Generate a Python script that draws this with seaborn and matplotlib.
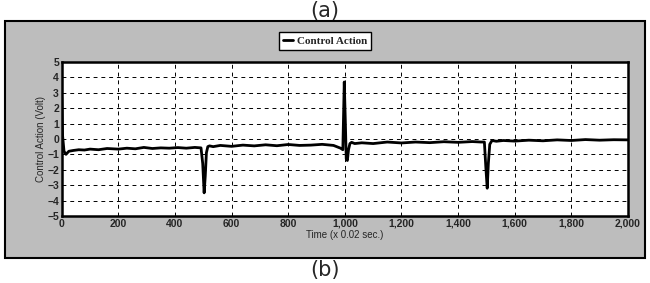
import pandas as pd
import matplotlib.pyplot as plt
import matplotlib.patches as mpatches
import seaborn as sns

# Control action (time in steps of 0.02 s, volts)
time = [0, 3, 8, 15, 25, 40, 60, 80, 100, 130, 160, 200, 230, 260, 290, 320, 350,
        380, 410, 440, 470, 492, 498, 503, 507, 511, 516, 522, 535, 560, 600, 640,
        680, 720, 760, 800, 840, 880, 920, 960, 985, 993, 998, 1002, 1005, 1009,
        1013, 1018, 1024, 1035, 1060, 1100, 1150, 1200, 1250, 1300, 1350, 1400,
        1450, 1480, 1493, 1498, 1503, 1507, 1512, 1520, 1535, 1560, 1600, 1650,
        1700, 1750, 1800, 1850, 1900, 1950, 2000]
action = [2.7, 0.2, -0.8, -1.0, -0.8, -0.75, -0.7, -0.72, -0.66, -0.7, -0.62, -0.66,
          -0.6, -0.64, -0.55, -0.62, -0.58, -0.6, -0.56, -0.6, -0.55, -0.58, -1.6,
          -3.5, -2.4, -0.9, -0.5, -0.45, -0.5, -0.42, -0.48, -0.4, -0.45, -0.38,
          -0.44, -0.36, -0.42, -0.4, -0.35, -0.42, -0.6, -0.7, 3.7, 1.0, -1.3, -1.4,
          -0.7, -0.3, -0.22, -0.3, -0.25, -0.3, -0.2, -0.26, -0.2, -0.24, -0.18, -0.22,
          -0.17, -0.2, -0.2, -1.8, -3.2, -1.6, -0.35, -0.1, -0.15, -0.1, -0.14, -0.08,
          -0.12, -0.06, -0.1, -0.04, -0.08, -0.05, -0.06]

df = pd.DataFrame({"Time": time, "Control Action": action})

sns.set_style("whitegrid")
plt.rcParams['font.family'] = ['Liberation Sans Narrow', 'Liberation Sans', 'DejaVu Sans']

fig = plt.figure(figsize=(6.5, 2.83), dpi=100)
fig.patch.set_facecolor('white')

# grey panel behind the chart
panel = mpatches.Rectangle((0.008, 0.09), 0.984, 0.835, transform=fig.transFigure,
                           facecolor='#bdbdbd', edgecolor='black', linewidth=1.5, zorder=-10)
fig.patches.append(panel)

ax = fig.add_axes([0.095, 0.237, 0.871, 0.544])
ax.set_facecolor('white')
sns.lineplot(data=df, x="Time", y="Control Action", color='black', linewidth=2.0,
             label="Control Action", ax=ax)

ax.set_xlim(0, 2000)
ax.set_ylim(-5, 5)
ax.set_xticks(range(0, 2001, 200))
ax.set_xticklabels([f"{v:,}" for v in range(0, 2001, 200)])
ax.set_yticks(range(-5, 6))
ax.tick_params(labelsize=7.5, pad=2, length=0)
for lab in ax.get_xticklabels() + ax.get_yticklabels():
    lab.set_fontweight('bold')
ax.grid(True, color='black', linestyle=(0, (4, 4)), linewidth=0.7)
for s in ax.spines.values():
    s.set_color('black')
    s.set_linewidth(1.8)

ax.set_xlabel("Time (x 0.02 sec.)", fontsize=7, labelpad=1)
ax.set_ylabel("Control Action (Volt)", fontsize=7, labelpad=1)

ax.legend(loc='center', bbox_to_anchor=(0.5, 0.855), bbox_transform=fig.transFigure,
          frameon=True, fancybox=False, edgecolor='black', framealpha=1,
          handlelength=0.9, handletextpad=0.3, borderpad=0.35,
          prop={'family': 'Liberation Serif', 'weight': 'bold', 'size': 8})

fig.text(0.5, 0.96, "(a)", ha='center', va='center', fontsize=15, family='DejaVu Sans')
fig.text(0.5, 0.045, "(b)", ha='center', va='center', fontsize=15, family='DejaVu Sans')

plt.savefig('out.png', dpi=100)
